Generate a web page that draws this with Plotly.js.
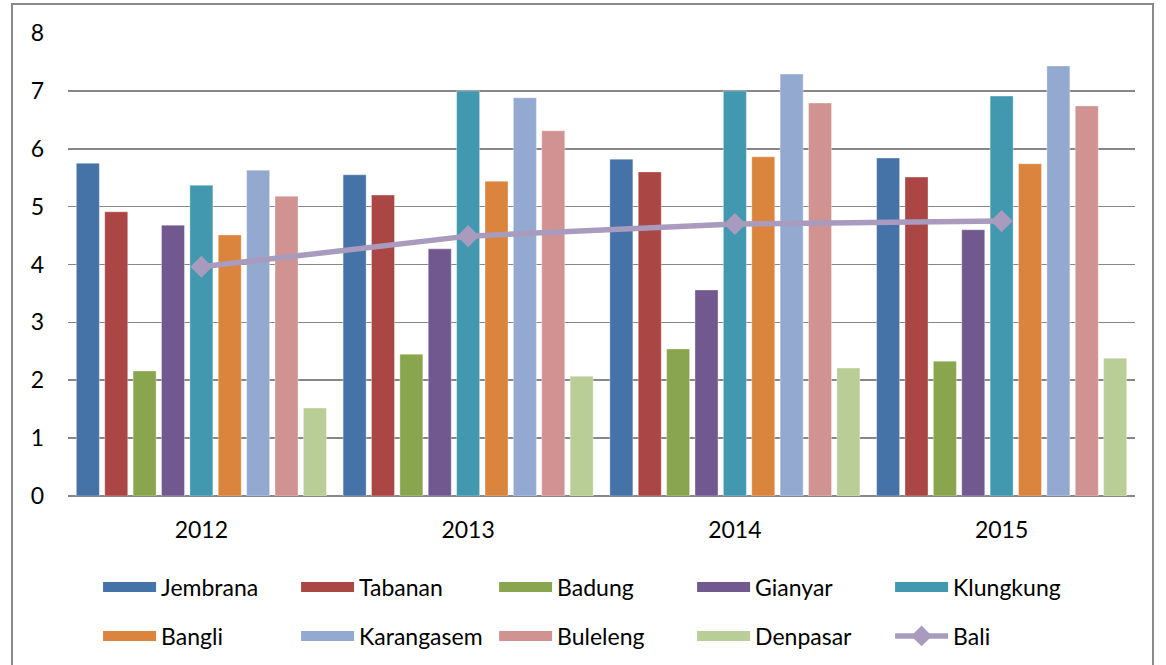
<!DOCTYPE html>
<html>
<head>
<meta charset="utf-8">
<script src="https://cdn.plot.ly/plotly-3.0.1.min.js"></script>
<style>
  html, body { margin: 0; padding: 0; background: #fff; }
  #wrap { position: relative; width: 1166px; height: 665px; overflow: hidden; }
  #chart { position: absolute; left: 0; top: 0; width: 1166px; height: 665px; }
  #frame { position: absolute; left: 11px; top: 3px; width: 1139px; height: 720px;
           border: 2px solid #8a8a8a; pointer-events: none; }
</style>
</head>
<body>
<div id="wrap">
  <div id="chart"></div>
  <div id="frame"></div>
</div>
<script>
const years = ['2012', '2013', '2014', '2015'];

const jembrana   = [5.75, 5.55, 5.82, 5.84];
const tabanan    = [4.91, 5.20, 5.60, 5.51];
const badung     = [2.16, 2.45, 2.54, 2.33];
const gianyar    = [4.68, 4.27, 3.56, 4.60];
const klungkung  = [5.37, 7.00, 7.00, 6.91];
const bangli     = [4.51, 5.44, 5.86, 5.74];
const karangasem = [5.63, 6.88, 7.29, 7.43];
const buleleng   = [5.18, 6.31, 6.79, 6.74];
const denpasar   = [1.52, 2.07, 2.21, 2.38];
const bali       = [3.96, 4.49, 4.70, 4.75];

const seriesNames  = ['Jembrana', 'Tabanan', 'Badung', 'Gianyar', 'Klungkung',
                      'Bangli', 'Karangasem', 'Buleleng', 'Denpasar'];
const seriesValues = [jembrana, tabanan, badung, gianyar, klungkung,
                      bangli, karangasem, buleleng, denpasar];
const seriesColors = ['#4572A7', '#AA4643', '#89A54E', '#71588F', '#4198AF',
                      '#DB843D', '#93A9CF', '#D19392', '#B9CD96'];
const baliColor = '#A99BBD';

const FONT = 'Lato, "Open Sans", sans-serif';
const FS = 23;

const traces = [];
// bars (legend shown through wide swatch entries below)
seriesNames.forEach((name, i) => {
  traces.push({
    type: 'bar',
    name: name,
    x: years,
    y: seriesValues[i],
    marker: { color: seriesColors[i], line: { color: 'rgba(255,255,255,0.35)', width: 1 } },
    legendgroup: name,
    showlegend: false,
    hoverinfo: 'name+y'
  });
});

traces.push({
  type: 'scatter',
  mode: 'lines+markers',
  name: 'Bali',
  x: years,
  y: bali,
  line: { color: baliColor, width: 5.5 },
  marker: { symbol: 'diamond', size: 17, color: baliColor },
  showlegend: false,
  legendgroup: 'Bali'
});

// legend entries: Excel-style wide rectangular swatches
seriesNames.forEach((name, i) => {
  traces.push({
    type: 'scatter',
    mode: 'lines',
    name: name,
    x: [null],
    y: [null],
    line: { color: seriesColors[i], width: 14 },
    legendgroup: name,
    legend: i < 5 ? 'legend' : 'legend2',
    hoverinfo: 'skip'
  });
});
traces.push({
  type: 'scatter',
  mode: 'lines+markers',
  name: 'Bali',
  x: [null],
  y: [null],
  line: { color: baliColor, width: 5.5 },
  marker: { symbol: 'diamond', size: 16, color: baliColor },
  legendgroup: 'Bali',
  legend: 'legend2',
  hoverinfo: 'skip'
});

const legendCommon = {
  orientation: 'h',
  xref: 'paper',
  yref: 'container',
  xanchor: 'left',
  yanchor: 'middle',
  x: 0.0282,
  entrywidth: 130,
  entrywidthmode: 'pixels',
  itemwidth: 53,
  font: { family: FONT, size: FS, color: '#000' },
  bgcolor: 'rgba(0,0,0,0)',
  traceorder: 'normal'
};

const layout = {
  width: 1166,
  height: 665,
  margin: { l: 68, r: 31, t: 33, b: 169, autoexpand: false },
  paper_bgcolor: '#fff',
  plot_bgcolor: '#fff',
  barmode: 'group',
  bargap: 0.0425,
  bargroupgap: 0.189,
  font: { family: FONT, size: FS, color: '#000' },
  xaxis: {
    type: 'category',
    automargin: false,
    showgrid: false,
    showline: false,
    ticks: '',
    ticklabelstandoff: 18,
    tickfont: { family: FONT, size: FS, color: '#000' }
  },
  yaxis: {
    range: [0, 8],
    dtick: 1,
    automargin: false,
    showgrid: true,
    gridcolor: '#878787',
    gridwidth: 1.6,
    zeroline: true,
    zerolinecolor: '#878787',
    zerolinewidth: 1.6,
    showline: false,
    ticks: '',
    ticklabelstandoff: 23,
    tickfont: { family: FONT, size: FS, color: '#000' }
  },
  legend: Object.assign({}, legendCommon, { y: 0.1173 }),
  legend2: Object.assign({}, legendCommon, { y: 0.0436 }),
  showlegend: true
};

Plotly.newPlot('chart', traces, layout, { displayModeBar: false, staticPlot: true });
</script>
</body>
</html>
